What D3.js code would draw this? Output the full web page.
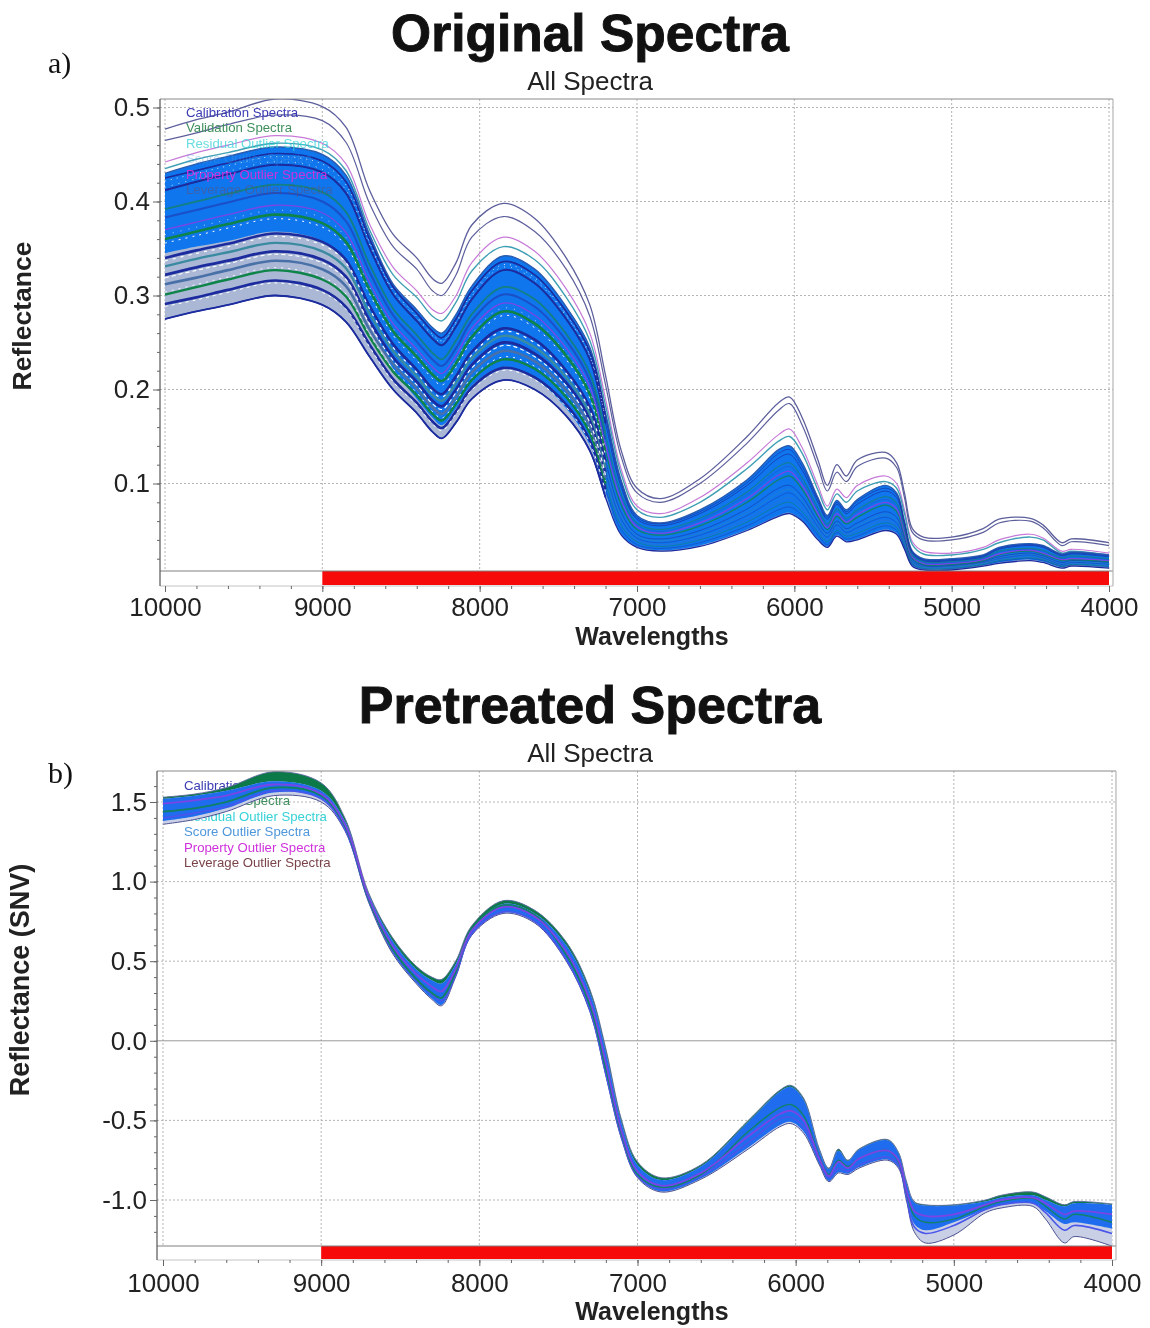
<!DOCTYPE html>
<html>
<head>
<meta charset="utf-8">
<script src="https://cdn.jsdelivr.net/npm/d3@7"></script>
<style>
  html, body { margin: 0; padding: 0; background: #fff; }
  svg { display: block; filter: blur(0.45px); }
  text { font-family: "Liberation Sans", Arial, sans-serif; fill: #222; }
</style>
</head>
<body>
<div id="chart"></div>
<script>
// wavenumbers shared by every spectrum
var wavelengths = [10000,9800,9600,9300,9000,8850,8700,8550,8400,8300,8240,8150,8050,7850,7650,7450,7300,7200,7100,7000,6850,6600,6300,6100,6030,5950,5850,5790,5730,5670,5600,5420,5350,5300,5250,5180,5000,4800,4700,4500,4420,4300,4240,4000];

var legendLabels = ["Calibration Spectra","Validation Spectra","Residual Outlier Spectra","Score Outlier Spectra","Property Outlier Spectra","Leverage Outlier Spectra"];
var xTicks = [10000,9000,8000,7000,6000,5000,4000];
var yTicksA = [0.1,0.2,0.3,0.4,0.5];
var yTicksB = [-1.0,-0.5,0.0,0.5,1.0,1.5];

// a) original spectra
var aTopOne   = [.477,.487,.495,.509,.501,.479,.412,.365,.340,.318,.313,.335,.375,.398,.382,.340,.290,.215,.135,.095,.084,.105,.150,.186,.192,.170,.125,.098,.120,.108,.125,.133,.122,.090,.052,.043,.043,.052,.062,.063,.056,.037,.041,.037];
var aTopTwo   = [.465,.473,.482,.492,.486,.463,.398,.352,.328,.305,.300,.322,.362,.384,.368,.328,.278,.205,.128,.090,.080,.100,.143,.178,.185,.162,.118,.092,.112,.102,.118,.127,.117,.085,.048,.040,.040,.048,.058,.060,.053,.034,.038,.034];
var aPink     = [.442,.452,.460,.470,.462,.440,.376,.330,.305,.285,.281,.300,.335,.362,.347,.307,.260,.190,.115,.076,.068,.085,.122,.152,.158,.138,.098,.076,.094,.085,.098,.108,.100,.072,.038,.028,.026,.032,.040,.046,.042,.028,.030,.026];
var aTeal     = [.435,.445,.452,.462,.455,.433,.370,.322,.298,.278,.273,.293,.326,.352,.338,.298,.252,.183,.110,.072,.064,.080,.116,.145,.150,.132,.093,.072,.089,.080,.092,.102,.095,.068,.035,.025,.024,.030,.037,.043,.040,.026,.028,.024];
var aUpper    = [.430,.440,.448,.458,.450,.428,.365,.312,.285,.266,.260,.280,.310,.342,.328,.288,.245,.175,.103,.066,.058,.072,.104,.136,.140,.122,.085,.066,.082,.072,.083,.098,.090,.060,.028,.020,.020,.024,.032,.036,.034,.025,.027,.024];
var aSolidLow = [.345,.352,.358,.368,.358,.336,.274,.222,.190,.170,.162,.180,.204,.224,.212,.180,.141,.090,.046,.033,.029,.034,.051,.066,.069,.061,.041,.033,.045,.039,.041,.051,.047,.031,.013,.009,.009,.013,.016,.019,.017,.011,.013,.011];
var aLower    = [.275,.283,.290,.300,.290,.272,.235,.200,.175,.155,.148,.165,.190,.210,.200,.172,.135,.085,.045,.032,.028,.033,.050,.065,.068,.060,.040,.032,.044,.038,.040,.050,.046,.030,.012,.008,.008,.012,.015,.018,.016,.010,.012,.010];
var aNavyOne  = [.291,.298,.306,.316,.306,.288,.248,.211,.186,.166,.159,.177,.202,.223,.213,.184,.146,.094,.051,.035,.031,.037,.055,.072,.075,.066,.045,.035,.048,.041,.044,.055,.050,.033,.014,.009,.009,.013,.017,.020,.018,.012,.013,.011];
var aGreenOne = [.301,.309,.317,.327,.317,.299,.256,.219,.194,.174,.167,.185,.210,.232,.222,.192,.154,.100,.055,.038,.033,.040,.059,.077,.080,.070,.048,.038,.050,.044,.047,.058,.053,.035,.015,.010,.010,.014,.018,.021,.019,.012,.014,.012];
var aSteel    = [.312,.319,.327,.337,.328,.310,.264,.227,.201,.181,.174,.192,.218,.241,.230,.199,.161,.106,.058,.040,.035,.042,.062,.081,.085,.074,.051,.040,.053,.046,.050,.061,.055,.037,.016,.011,.011,.015,.019,.022,.020,.013,.015,.013];
var aNavyTwo  = [.322,.330,.337,.347,.338,.320,.273,.234,.208,.188,.182,.200,.226,.250,.238,.207,.168,.112,.062,.042,.037,.045,.066,.086,.090,.079,.054,.043,.056,.048,.053,.064,.058,.039,.017,.012,.012,.016,.020,.024,.021,.014,.016,.014];
var aTealTwo  = [.331,.339,.346,.356,.347,.329,.281,.241,.214,.194,.188,.207,.233,.257,.245,.213,.174,.117,.065,.044,.039,.047,.069,.090,.094,.082,.056,.045,.058,.050,.055,.067,.061,.040,.018,.012,.012,.016,.021,.025,.022,.015,.017,.015];
var aNavyThree= [.340,.348,.355,.366,.357,.338,.289,.248,.221,.201,.195,.214,.240,.265,.253,.220,.181,.123,.069,.046,.041,.050,.073,.095,.098,.086,.059,.047,.060,.052,.058,.070,.064,.042,.019,.013,.013,.017,.022,.026,.023,.016,.018,.016];
var aGreenTwo = [.360,.368,.376,.386,.377,.357,.306,.262,.235,.216,.209,.228,.256,.283,.270,.236,.195,.134,.077,.051,.045,.055,.080,.104,.108,.094,.065,.051,.065,.057,.064,.077,.070,.046,.021,.014,.014,.018,.024,.028,.025,.018,.019,.017];
var aPurple   = [.370,.378,.386,.396,.388,.367,.314,.270,.243,.224,.217,.236,.265,.292,.279,.244,.203,.141,.082,.054,.047,.058,.084,.109,.113,.098,.068,.053,.068,.059,.067,.080,.073,.048,.022,.015,.015,.019,.025,.029,.026,.019,.020,.018];
var aNavyFive = [.383,.391,.399,.409,.400,.379,.325,.279,.251,.232,.225,.244,.273,.301,.288,.252,.210,.147,.086,.056,.049,.061,.088,.114,.118,.102,.071,.055,.071,.061,.070,.083,.076,.050,.023,.016,.016,.020,.027,.030,.028,.020,.022,.019];
var aGreenThree=[.392,.400,.408,.418,.410,.389,.333,.286,.258,.239,.232,.252,.280,.309,.296,.259,.217,.152,.089,.058,.051,.063,.091,.118,.122,.106,.074,.057,.073,.063,.072,.086,.079,.052,.024,.017,.017,.021,.028,.031,.029,.021,.023,.020];
var aNavyFour = [.412,.421,.429,.439,.431,.409,.351,.301,.273,.254,.247,.267,.296,.327,.313,.275,.232,.164,.096,.062,.055,.068,.098,.127,.131,.114,.080,.062,.078,.068,.078,.092,.085,.056,.026,.018,.018,.022,.030,.034,.032,.023,.025,.022];
var aNavySix  = [.425,.433,.441,.451,.443,.421,.360,.309,.281,.262,.255,.275,.305,.336,.322,.283,.240,.170,.100,.064,.057,.070,.101,.132,.136,.118,.083,.064,.080,.070,.081,.095,.088,.058,.027,.019,.019,.023,.031,.035,.033,.024,.026,.023];

// b) pretreated spectra
var bUpper    = [1.53,1.55,1.59,1.69,1.62,1.40,.93,.65,.47,.40,.385,.50,.72,.88,.82,.62,.32,-.05,-.50,-.76,-.86,-.78,-.50,-.31,-.28,-.36,-.68,-.80,-.68,-.75,-.68,-.62,-.70,-.88,-1.01,-1.03,-1.03,-1.00,-.97,-.95,-.98,-1.03,-1.01,-1.025];
var bCoreUp   = [1.52,1.54,1.57,1.63,1.57,1.38,.92,.63,.45,.38,.36,.48,.70,.86,.80,.60,.30,-.07,-.52,-.78,-.875,-.79,-.51,-.32,-.29,-.37,-.69,-.805,-.69,-.755,-.685,-.625,-.705,-.89,-1.015,-1.035,-1.035,-1.01,-.985,-.97,-1.0,-1.04,-1.02,-1.03];
var bCoreLow  = [1.38,1.41,1.46,1.56,1.52,1.33,.875,.555,.365,.265,.225,.405,.665,.805,.745,.505,.185,-.215,-.615,-.855,-.945,-.865,-.67,-.53,-.51,-.57,-.775,-.88,-.825,-.835,-.795,-.745,-.795,-.98,-1.15,-1.19,-1.14,-1.06,-1.03,-1.02,-1.07,-1.15,-1.14,-1.18];
var bLower    = [1.36,1.39,1.44,1.54,1.50,1.32,.87,.55,.36,.26,.22,.40,.66,.80,.74,.50,.18,-.22,-.62,-.86,-.95,-.87,-.68,-.54,-.52,-.58,-.78,-.885,-.83,-.84,-.80,-.75,-.80,-1.0,-1.2,-1.27,-1.22,-1.08,-1.05,-1.04,-1.12,-1.27,-1.23,-1.29];
var bPurple   = [1.49,1.51,1.54,1.61,1.55,1.36,.90,.60,.42,.34,.31,.45,.69,.84,.78,.56,.25,-.14,-.57,-.82,-.91,-.83,-.60,-.46,-.44,-.50,-.74,-.85,-.76,-.80,-.74,-.69,-.75,-.94,-1.07,-1.10,-1.09,-1.03,-1.00,-.985,-1.02,-1.09,-1.07,-1.09];
var bGreen    = [1.44,1.46,1.50,1.59,1.54,1.35,.89,.58,.39,.30,.27,.43,.70,.85,.79,.54,.22,-.18,-.59,-.84,-.92,-.84,-.57,-.42,-.40,-.47,-.73,-.84,-.75,-.79,-.74,-.69,-.76,-.95,-1.10,-1.14,-1.12,-1.04,-1.01,-.99,-1.04,-1.12,-1.09,-1.14];
var bNavy     = [1.40,1.43,1.47,1.57,1.52,1.33,.88,.57,.38,.29,.25,.41,.67,.81,.75,.51,.19,-.21,-.61,-.85,-.93,-.85,-.64,-.49,-.48,-.54,-.75,-.86,-.80,-.82,-.78,-.73,-.78,-.98,-1.17,-1.21,-1.16,-1.06,-1.03,-1.02,-1.08,-1.19,-1.16,-1.21];

var legendColors = ["#3b3bb4","#3f8f5c","#35d2d8","#4f97dc","#cf32dc","#7a444a"];
var navy = "#1c2c9e", green = "#0f8448", violet = "#7b45e6", outline = "#5c5f9c";
var N_LEFT = 18; // spectra look busier above about 7200, where the lines fan out

var svg = d3.select("#chart").append("svg")
    .attr("width", 1150)
    .attr("height", 1328);

function draw_panel(p) {
    var g = svg.append("g");

    var x = d3.scaleLinear().domain([10000, 4000]).range(p.xRange);
    var y = d3.scaleLinear().domain(p.yDomain).range(p.yRange);

    var clipId = "clip" + p.id;
    svg.append("clipPath").attr("id", clipId)
	.append("rect")
	.attr("x", p.left)
	.attr("y", p.top)
	.attr("width", p.right - p.left)
	.attr("height", p.barTop - p.top);

    // Titles
    g.append("text").attr("x", 590).attr("y", p.titleY)
	.attr("text-anchor", "middle")
	.attr("font-size", p.titleSize).attr("font-weight", "bold")
	.style("fill", "#111")
	.style("stroke", "#111").style("stroke-width", 0.9)
	.text(p.title);
    g.append("text").attr("x", 590).attr("y", p.subY)
	.attr("text-anchor", "middle").attr("font-size", 26)
	.text("All Spectra");
    g.append("text").attr("x", 48).attr("y", p.tagY)
	.attr("font-size", 30)
	.style("font-family", "'Liberation Serif', serif")
	.style("fill", "#111")
	.text(p.tag);

    // Grid
    g.append("g").selectAll("line").data(xTicks).enter().append("line")
	.attr("x1", d => x(d)).attr("x2", d => x(d))
	.attr("y1", p.top).attr("y2", p.barTop)
	.attr("stroke", "#b5b5b5").attr("stroke-dasharray", "2,2");
    g.append("g").selectAll("line").data(p.yTicks).enter().append("line")
	.attr("x1", p.left).attr("x2", p.right)
	.attr("y1", d => y(d)).attr("y2", d => y(d))
	.attr("stroke", d => d === 0 ? "#999" : "#b5b5b5")
	.attr("stroke-dasharray", d => d === 0 ? null : "2,2");

    function draw_legend(parent) {
	parent.selectAll("text").data(legendLabels).enter().append("text")
	    .attr("x", p.legendX)
	    .attr("y", (d,i) => p.legendY + i * p.legendStep)
	    .attr("font-size", 13.2)
	    .style("fill", (d,i) => legendColors[i])
	    .style("opacity", (d,i) => p.legendOpacity[i])
	    .text(d => d);
    }
    if (!p.legendOnTop) draw_legend(g.append("g"));

    // Spectra
    var plot = g.append("g").attr("clip-path", "url(#" + clipId + ")");

    var curve = d3.curveCatmullRom.alpha(0.5);

    var line = d3.line()
	.x((d,i) => x(wavelengths[i]))
	.y(d => y(d))
	.curve(curve);

    function area_between(hi, lo) {
	return d3.area()
	    .x((d,i) => x(wavelengths[i]))
	    .y0((d,i) => y(lo[i]))
	    .y1((d,i) => y(hi[i]))
	    .curve(curve)(hi);
    }

    p.bands.forEach(function (b) {
	plot.append("path").attr("d", area_between(b.hi, b.lo)).attr("fill", b.color);
    });

    p.lines.forEach(function (l) {
	plot.append("path").attr("d", line(l.values))
	    .attr("fill", "none")
	    .attr("stroke", l.color)
	    .attr("stroke-width", l.width)
	    .attr("stroke-opacity", l.opacity || 1);
	if (l.leftWidth) {
	    plot.append("path").attr("d", line(l.values.slice(0, N_LEFT)))
		.attr("fill", "none")
		.attr("stroke", l.color)
		.attr("stroke-width", l.leftWidth);
	}
    });

    // pale speckle running along some of the spectra
    p.speckle.forEach(function (s) {
	plot.append("path").attr("d", line(s.values.slice(0, N_LEFT)))
	    .attr("transform", "translate(0," + s.dy + ")")
	    .attr("fill", "none")
	    .attr("stroke", "#fff")
	    .attr("stroke-width", s.width)
	    .attr("stroke-dasharray", s.dash);
    });

    if (p.legendOnTop) draw_legend(g.append("g"));

    // Frame and exclusion bar
    g.append("rect").attr("x", x(9000)).attr("y", p.barTop)
	.attr("width", x(4000) - x(9000)).attr("height", p.bottom - p.barTop - 1)
	.attr("fill", "#f60a0a");
    g.append("line").attr("x1", p.left).attr("x2", p.right)
	.attr("y1", p.barTop).attr("y2", p.barTop)
	.attr("stroke", "#808080").attr("stroke-width", 1.2);
    g.append("line").attr("x1", p.left).attr("x2", p.right)
	.attr("y1", p.top).attr("y2", p.top)
	.attr("stroke", "#8a8a8a").attr("stroke-width", 1.2);
    g.append("line").attr("x1", p.left).attr("x2", p.right)
	.attr("y1", p.bottom).attr("y2", p.bottom)
	.attr("stroke", "#c4c4c4");
    g.append("line").attr("x1", p.right).attr("x2", p.right)
	.attr("y1", p.top).attr("y2", p.bottom)
	.attr("stroke", "#b5b5b5").attr("stroke-width", 1.2);
    g.append("line").attr("x1", p.left).attr("x2", p.left)
	.attr("y1", p.top).attr("y2", p.bottom)
	.attr("stroke", "#555").attr("stroke-width", 1.2);

    // Axes
    var xMinor = g.append("g").attr("transform", "translate(0," + p.bottom + ")")
	.call(d3.axisBottom(x).tickValues(d3.range(4000, 10001, 200)).tickSizeInner(3).tickSizeOuter(0).tickFormat(""));
    var xAxis = g.append("g").attr("transform", "translate(0," + p.bottom + ")")
	.call(d3.axisBottom(x).tickValues(xTicks).tickSizeInner(6).tickSizeOuter(0).tickPadding(p.xTickPad).tickFormat(d3.format("d")));
    var yMinor = g.append("g").attr("transform", "translate(" + p.left + ",0)")
	.call(d3.axisLeft(y).tickValues(p.yMinor).tickSizeInner(3).tickSizeOuter(0).tickFormat(""));
    var yAxis = g.append("g").attr("transform", "translate(" + p.left + ",0)")
	.call(d3.axisLeft(y).tickValues(p.yTicks).tickSizeInner(7).tickSizeOuter(0).tickPadding(3)
	      .tickFormat(d => d3.format(".1f")(d).replace("\u2212", "-")));

    [xMinor, xAxis, yMinor, yAxis].forEach(function (a) {
	a.select(".domain").remove();
	a.selectAll(".tick line").attr("stroke", "#666");
    });
    xAxis.selectAll("text").attr("font-size", 26).style("font-family", "'Liberation Sans', sans-serif");
    yAxis.selectAll("text").attr("font-size", 26).style("font-family", "'Liberation Sans', sans-serif");

    g.append("text").attr("x", 652).attr("y", p.xLabelY)
	.attr("text-anchor", "middle")
	.attr("font-size", 25).attr("font-weight", "bold")
	.text("Wavelengths");
    g.append("text")
	.attr("transform", "translate(" + p.yLabelX + "," + p.yLabelY + ") rotate(-90)")
	.attr("text-anchor", "middle")
	.attr("font-size", p.yLabelSize).attr("font-weight", "bold")
	.text(p.yLabel);
}

draw_panel({
    id: "a", title: "Original Spectra", titleSize: 51.5, titleY: 51, subY: 90, tag: "a)", tagY: 73,
    left: 160, right: 1113, top: 99, barTop: 571, bottom: 586, xTickPad: 6,
    xRange: [165, 1109],
    yDomain: [0.1, 0.5], yRange: [483.5, 107.5],
    yTicks: yTicksA, yMinor: d3.range(0.02, 0.5001, 0.02),
    legendX: 186, legendY: 117, legendStep: 15.4, legendOnTop: true,
    legendOpacity: [1, 1, 0.75, 0.35, 1, 0.4],
    xLabelY: 645, yLabel: "Reflectance", yLabelSize: 26.5, yLabelX: 31, yLabelY: 316,
    bands: [
	{hi: aUpper, lo: aLower, color: "#aab8d6"},
	{hi: aUpper, lo: aSolidLow, color: "#0f76ee"}
    ],
    lines: [
	{values: aTopOne, color: outline, width: 1.3},
	{values: aTopTwo, color: outline, width: 1.2},
	{values: aPink, color: "#c77ad8", width: 1.2},
	{values: aTeal, color: "#3f9fb4", width: 1.4},
	{values: aUpper, color: "#2a5cb0", width: 1.4},
	{values: aLower, color: navy, width: 1.3, leftWidth: 1.8},
	{values: aNavyOne, color: navy, width: 0.8, opacity: 0.5, leftWidth: 2.6},
	{values: aGreenOne, color: green, width: 0.8, opacity: 0.6, leftWidth: 2.4},
	{values: aSteel, color: "#4a70a8", width: 0.7, opacity: 0.5, leftWidth: 2.6},
	{values: aNavyTwo, color: navy, width: 0.8, opacity: 0.5, leftWidth: 2.8},
	{values: aTealTwo, color: "#3a8aa0", width: 0.8, opacity: 0.5, leftWidth: 2.4},
	{values: aNavyThree, color: navy, width: 0.9, opacity: 0.6, leftWidth: 2.6},
	{values: aGreenTwo, color: green, width: 1.3, opacity: 0.8, leftWidth: 2.6},
	{values: aPurple, color: violet, width: 1.3},
	{values: aNavyFive, color: "#1a4fc8", width: 0.8, opacity: 0.6, leftWidth: 2},
	{values: aGreenThree, color: "#137f86", width: 1.2, opacity: 0.8, leftWidth: 1.8},
	{values: aNavyFour, color: navy, width: 1, opacity: 0.7, leftWidth: 2},
	{values: aNavySix, color: navy, width: 0.9, opacity: 0.7, leftWidth: 1.6}
    ],
    speckle: [
	{values: aNavyOne, dy: 2.5, width: 1, dash: "3,4"},
	{values: aGreenOne, dy: -2.5, width: 0.9, dash: "2,5"},
	{values: aNavyTwo, dy: 3, width: 1.1, dash: "4,3"},
	{values: aNavyThree, dy: 3, width: 1.2, dash: "3,5"},
	{values: aGreenTwo, dy: 4, width: 1, dash: "2,5"},
	{values: aPurple, dy: 5, width: 0.7, dash: "1,7"},
	{values: aNavyFour, dy: -3, width: 0.7, dash: "1,6"},
	{values: aNavySix, dy: 3, width: 0.8, dash: "1,5"}
    ]
});

draw_panel({
    id: "b", title: "Pretreated Spectra", titleSize: 52, titleY: 723, subY: 762, tag: "b)", tagY: 783,
    left: 157, right: 1116, top: 771, barTop: 1246, bottom: 1260, xTickPad: 8,
    xRange: [163, 1112],
    yDomain: [-1.0, 1.5], yRange: [1200, 802],
    yTicks: yTicksB, yMinor: d3.range(-1.2, 1.6001, 0.1),
    legendX: 184, legendY: 790, legendStep: 15.4, legendOnTop: false,
    legendOpacity: [1, 1, 1, 1, 1, 1],
    xLabelY: 1320, yLabel: "Reflectance (SNV)", yLabelSize: 27, yLabelX: 29, yLabelY: 980,
    bands: [
	{hi: bUpper, lo: bLower, color: "#c9d0e6"},
	{hi: bUpper, lo: bCoreUp, color: "#0c7a48"},
	{hi: bCoreUp, lo: bCoreLow, color: "#1f6cee"}
    ],
    lines: [
	{values: bUpper, color: "#5c6a9c", width: 0.9},
	{values: bLower, color: "#4b4f90", width: 1},
	{values: bNavy, color: "#4a55ea", width: 1.6},
	{values: bGreen, color: "#11806a", width: 1.4, leftWidth: 1.8},
	{values: bPurple, color: violet, width: 1.8}
    ],
    speckle: []
});
</script>
</body>
</html>
